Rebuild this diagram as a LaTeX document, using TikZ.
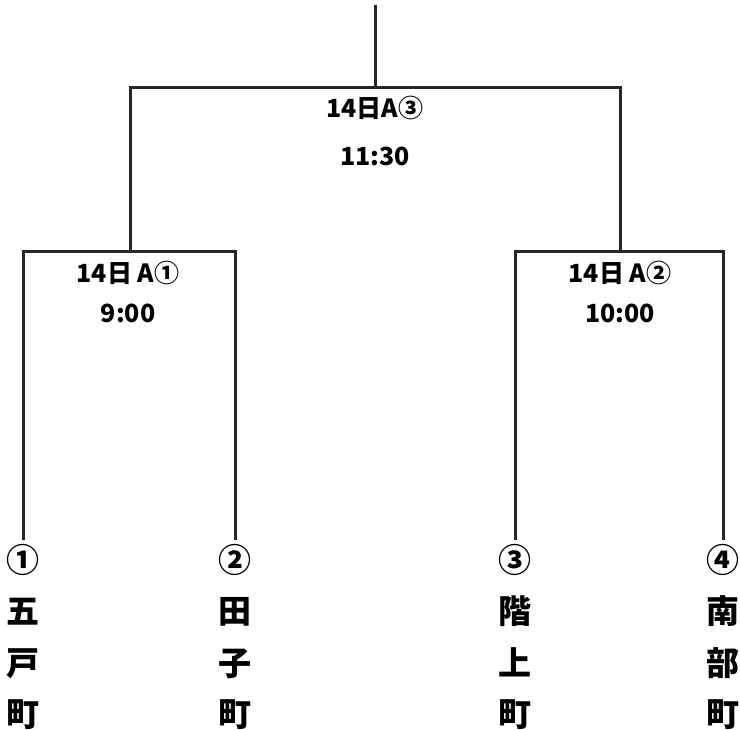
\documentclass[tikz,border=0pt]{standalone}
\usepackage{fontspec}
\newfontfamily\jpfont{Noto Sans CJK JP}
\usetikzlibrary{positioning}
\tikzset{
  bracket/.style={line width=3pt, black!85},
  matchlabel/.style={font=\jpfont\bfseries\fontsize{25}{25}\selectfont, inner sep=0pt},
  timelabel/.style={font=\jpfont\bfseries\fontsize{25}{25}\selectfont, inner sep=0pt},
  teamlabel/.style={font=\jpfont\bfseries\fontsize{33}{51.5}\selectfont, align=center, inner sep=0pt, anchor=north}
}
\begin{document}
\begin{tikzpicture}[x=1pt, y=-1pt]
\useasboundingbox (0,0) rectangle (740,730);
% ====== junctions ======
\coordinate (top) at (375,5);
\coordinate (fin) at (375,88);
\coordinate (semiL) at (130,252);
\coordinate (semiR) at (620,252);
% ====== leaf ends ======
\coordinate (t1) at (23,540);
\coordinate (t2) at (235,540);
\coordinate (t3) at (515,540);
\coordinate (t4) at (723,540);
% ====== bracket lines ======
\draw[bracket] (top) -- (fin);
\draw[bracket] (semiL) |- (fin) -| (semiR);
\draw[bracket] (t1) |- (semiL) -| (t2);
\draw[bracket] (t3) |- (semiR) -| (t4);
% ====== match labels ======
\node[matchlabel] (m3) at (375,108) {14日A③};
\node[timelabel] (m3t) at (375,156) {11:30};
\node[matchlabel] (m1) at (128,273) {14日 A①};
\node[timelabel] (m1t) at (128,313) {9:00};
\node[matchlabel] (m2) at (620,273) {14日 A②};
\node[timelabel] (m2t) at (620,313) {10:00};
% ====== teams ======
\node[teamlabel] (n1) at (t1) [yshift=-4pt] {①\\五\\戸\\町};
\node[teamlabel] (n2) at (t2) [yshift=-4pt] {②\\田\\子\\町};
\node[teamlabel] (n3) at (t3) [yshift=-4pt] {③\\階\\上\\町};
\node[teamlabel] (n4) at (t4) [yshift=-4pt] {④\\南\\部\\町};
\end{tikzpicture}
\end{document}
